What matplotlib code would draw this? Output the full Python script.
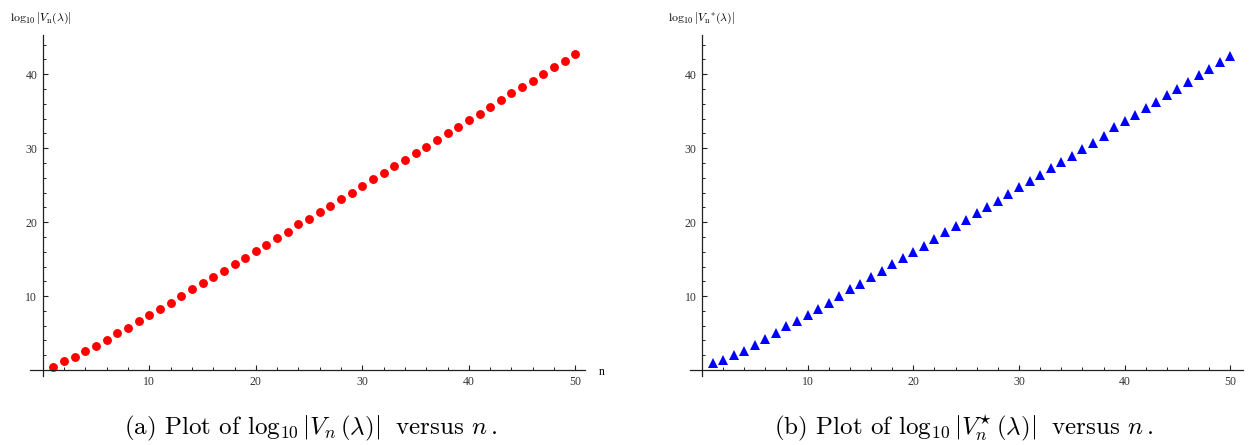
import numpy as np
import matplotlib
matplotlib.use("Agg")
import matplotlib.pyplot as plt
from matplotlib.ticker import FixedLocator

# -------- Data -------- #
n_vals = list(range(1, 51))

log_vn = [0.45, 1.2, 1.8, 2.6, 3.2, 4.1, 5.0, 5.7, 6.7, 7.5,
          8.3, 9.1, 10.0, 11.0, 11.8, 12.6, 13.4, 14.4, 15.2, 16.1,
          16.9, 17.9, 18.7, 19.7, 20.4, 21.4, 22.2, 23.1, 24.0, 24.9,
          25.8, 26.7, 27.6, 28.4, 29.4, 30.2, 31.1, 32.1, 32.9, 33.8,
          34.6, 35.6, 36.5, 37.4, 38.3, 39.1, 40.0, 41.0, 41.8, 42.7]

log_vn_star = [0.9, 1.3, 2.0, 2.6, 3.4, 4.2, 5.0, 5.9, 6.6, 7.4,
               8.3, 9.1, 10.0, 10.9, 11.7, 12.6, 13.4, 14.3, 15.1, 16.0,
               16.8, 17.7, 18.6, 19.5, 20.3, 21.2, 22.0, 22.9, 23.8, 24.7,
               25.5, 26.4, 27.3, 28.1, 29.0, 29.9, 30.7, 31.6, 32.9, 33.7,
               34.5, 35.4, 36.3, 37.2, 38.0, 39.0, 39.9, 40.7, 41.7, 42.5]

x_major = [10, 20, 30, 40, 50]
y_major = [10, 20, 30, 40]

plt.rcParams["mathtext.fontset"] = "cm"

fig = plt.figure(figsize=(12.54, 4.45), dpi=100)
ax1 = fig.add_axes([30 / 1254, 69 / 445, 555 / 1254, 341 / 445])
ax2 = fig.add_axes([690 / 1254, 69 / 445, 553 / 1254, 341 / 445])


# -------- Mathematica-like axes -------- #
def style_axes(ax, xlim):
    ax.set_xlim(*xlim)
    ax.set_ylim(-0.8, 45.3)
    for side in ["top", "right"]:
        ax.spines[side].set_visible(False)
    ax.spines["left"].set_position(("data", 0))
    ax.spines["bottom"].set_position(("data", 0))
    for side in ["left", "bottom"]:
        ax.spines[side].set_linewidth(0.9)
        ax.spines[side].set_color("#222222")
    ax.xaxis.set_major_locator(FixedLocator(x_major))
    ax.yaxis.set_major_locator(FixedLocator(y_major))
    ax.xaxis.set_minor_locator(FixedLocator([v for v in range(2, 51, 2) if v % 10]))
    ax.yaxis.set_minor_locator(FixedLocator([v for v in range(2, 45, 2) if v % 10]))
    ax.tick_params(which="major", direction="in", length=3.8, width=0.8,
                   color="#222222", labelsize=8.5, pad=4)
    ax.tick_params(which="minor", direction="in", length=2.2, width=0.7,
                   color="#222222")
    for lab in ax.get_xticklabels() + ax.get_yticklabels():
        lab.set_fontfamily("Liberation Serif")
        lab.set_color("#333333")
    ax.patch.set_visible(False)


style_axes(ax1, (-1.2, 50.9))
style_axes(ax2, (-1.13, 51.2))

ax1.plot(n_vals, log_vn, "o", color="#ff0000", markersize=6.4,
         markeredgewidth=0, clip_on=False)
ax2.plot(n_vals, log_vn_star, "^", color="#0000ff", markersize=6.5,
         markeredgewidth=0, clip_on=False)

ax1.text(52.5, -0.3, "n", fontsize=8.5, family="Liberation Serif",
         ha="center", va="center", clip_on=False)

# axis labels at the top
fig.text(10 / 1254, 1 - 18 / 445, r"$\log_{10}|V_{\rm n}(\lambda)|$",
         fontsize=8.5, ha="left", va="center")
fig.text(668 / 1254, 1 - 18 / 445, r"$\log_{10}|V_{\rm n}{}^{*}(\lambda)|$",
         fontsize=8.5, ha="left", va="center")

# captions
fig.text(311 / 1254, 1 - 428 / 445,
         r"(a) Plot of $\log_{10}|V_n\,(\lambda)|\;$ versus $n\,$.",
         fontsize=18, family="cmr10", ha="center", va="center")
fig.text(963 / 1254, 1 - 428 / 445,
         r"(b) Plot of $\log_{10}|V_n^{\star}\,(\lambda)|\;$ versus $n\,$.",
         fontsize=18, family="cmr10", ha="center", va="center")

plt.savefig("out.png", dpi=100)
